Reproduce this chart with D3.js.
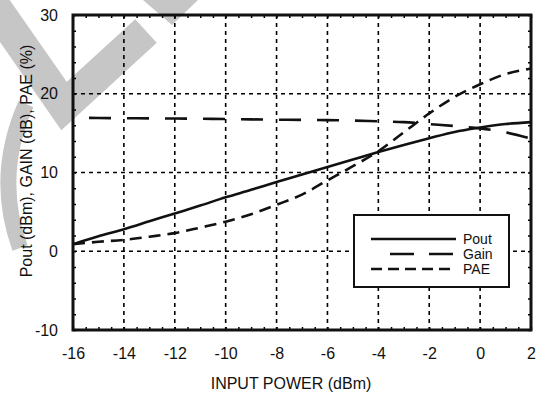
<!DOCTYPE html>
<html>
<head>
<meta charset="utf-8">
<script src="https://cdn.jsdelivr.net/npm/d3@7"></script>
<style>
  body { margin: 0; background: #fff; }
  svg { display: block; font-family: "Liberation Sans", Arial, sans-serif; }
</style>
</head>
<body>
<div id="chart"></div>
<script>
// data
const inputPower = [-16, -15, -14, -13, -12, -11, -10, -9, -8, -7, -6, -5, -4, -3, -2, -1, 0, 1, 2];
const pout = [0.9, 1.9, 2.8, 3.8, 4.8, 5.8, 6.85, 7.8, 8.8, 9.75, 10.7, 11.65, 12.6, 13.5, 14.35, 15.15, 15.7, 16.15, 16.4];
const gain = [16.95, 16.92, 16.9, 16.87, 16.85, 16.82, 16.8, 16.75, 16.7, 16.68, 16.65, 16.6, 16.5, 16.4, 16.15, 15.9, 15.6, 15.1, 14.3];
const pae = [0.9, 1.2, 1.45, 1.85, 2.3, 3.0, 3.75, 4.7, 5.9, 7.2, 9.0, 10.8, 12.7, 15.1, 17.5, 19.6, 21.2, 22.5, 23.2];
const xTicks = [-16, -14, -12, -10, -8, -6, -4, -2, 0, 2];
const yTicks = [-10, 0, 10, 20, 30];
const seriesNames = ['Pout', 'Gain', 'PAE'];

const width = 544;
const height = 396;
const plotLeft = 73, plotRight = 531, plotTop = 15, plotBottom = 330;
const fontSize = 16;

var svg = d3.select('#chart')
    .append('svg')
        .attr('width', width)
        .attr('height', height);

// grey watermark behind everything
var wm = svg.append('g').attr('fill', 'none').attr('stroke', '#c6c6c6');
wm.append('path')
    .attr('d', 'M-14,-6 L64,106 L146,31')
    .attr('stroke-width', 32)
    .attr('stroke-linejoin', 'miter');
svg.append('path')
    .attr('d', 'M143,0 L172,25 L198,0 Z')
    .attr('fill', '#c6c6c6');
wm.append('path')
    .attr('d', 'M26,104 Q-6,176 20,248')
    .attr('stroke-width', 16);

let x = d3.scaleLinear().domain([-16, 2]).range([plotLeft, plotRight]);
let y = d3.scaleLinear().domain([-10, 30]).range([plotBottom, plotTop]);

//grid
let grid = svg.append('g')
    .attr('stroke', '#000')
    .attr('stroke-width', 1.6)
    .attr('stroke-dasharray', '4,4');

grid.selectAll('.vgrid')
    .data(xTicks.slice(1, -1))
    .enter()
    .append('line')
        .attr('x1', d => x(d))
        .attr('x2', d => x(d))
        .attr('y1', plotTop)
        .attr('y2', plotBottom);

grid.selectAll('.hgrid')
    .data(yTicks.slice(1, -1))
    .enter()
    .append('line')
        .attr('x1', plotLeft)
        .attr('x2', plotRight)
        .attr('y1', d => y(d))
        .attr('y2', d => y(d));

//minor ticks pointing inward
let xMinor = d3.range(-16, 2.01, 0.5);
let yMinor = d3.range(-10, 30.01, 2);

svg.append('g')
    .attr('transform', `translate(0,${plotBottom})`)
    .call(d3.axisBottom(x).tickValues(xMinor).tickSize(-3).tickFormat(''))
    .call(g => g.select('.domain').remove());
svg.append('g')
    .attr('transform', `translate(0,${plotTop})`)
    .call(d3.axisTop(x).tickValues(xMinor).tickSize(-3).tickFormat(''))
    .call(g => g.select('.domain').remove());
svg.append('g')
    .attr('transform', `translate(${plotLeft},0)`)
    .call(d3.axisLeft(y).tickValues(yMinor).tickSize(-3).tickFormat(''))
    .call(g => g.select('.domain').remove());
svg.append('g')
    .attr('transform', `translate(${plotRight},0)`)
    .call(d3.axisRight(y).tickValues(yMinor).tickSize(-3).tickFormat(''))
    .call(g => g.select('.domain').remove());
svg.selectAll('.tick line').attr('stroke-width', 1.5);

//tick labels (plain hyphen for negatives, like the reference)
svg.append('g')
    .attr('transform', `translate(0,${plotBottom})`)
    .call(d3.axisBottom(x).tickValues(xTicks).tickSize(0).tickPadding(18).tickFormat(d => String(d)))
    .call(g => g.select('.domain').remove())
    .call(g => g.selectAll('text')
        .attr('font-size', fontSize)
        .attr('font-family', '"Liberation Sans", Arial, sans-serif')
        .attr('fill', '#111'));

svg.append('g')
    .attr('transform', `translate(${plotLeft},0)`)
    .call(d3.axisLeft(y).tickValues(yTicks).tickSize(0).tickPadding(15).tickFormat(d => String(d)))
    .call(g => g.select('.domain').remove())
    .call(g => g.selectAll('text')
        .attr('font-size', fontSize)
        .attr('font-family', '"Liberation Sans", Arial, sans-serif')
        .attr('fill', '#111'));

//axis titles
svg.append('text')
    .text('INPUT POWER (dBm)')
    .attr('x', 291)
    .attr('y', 389)
    .attr('text-anchor', 'middle')
    .attr('font-size', fontSize)
    .attr('fill', '#111');

svg.append('text')
    .text('Pout (dBm), GAIN (dB), PAE (%)')
    .attr('transform', `translate(32, 161) rotate(-90)`)
    .attr('text-anchor', 'middle')
    .attr('font-size', fontSize)
    .attr('fill', '#111');

//curves
let rows = inputPower.map((p, i) => ({p: p, pout: pout[i], gain: gain[i], pae: pae[i]}));

function lineFor(key) {
    return d3.line()
        .x(d => x(d.p))
        .y(d => y(d[key]))
        .curve(d3.curveMonotoneX)(rows);
}

svg.append('path')
    .attr('d', lineFor('pout'))
    .attr('fill', 'none')
    .attr('stroke', '#111')
    .attr('stroke-width', 2.6);

svg.append('path')
    .attr('d', lineFor('gain'))
    .attr('fill', 'none')
    .attr('stroke', '#111')
    .attr('stroke-width', 2.6)
    .attr('stroke-dasharray', '22,16')
    .attr('stroke-dashoffset', 22);

svg.append('path')
    .attr('d', lineFor('pae'))
    .attr('fill', 'none')
    .attr('stroke', '#111')
    .attr('stroke-width', 2.6)
    .attr('stroke-dasharray', '12,7');

//frame
svg.append('rect')
    .attr('x', plotLeft)
    .attr('y', plotTop)
    .attr('width', plotRight - plotLeft)
    .attr('height', plotBottom - plotTop)
    .attr('fill', 'none')
    .attr('stroke', '#111')
    .attr('stroke-width', 3);

//legend
let legend = svg.append('g').attr('transform', 'translate(354,215)');
legend.append('rect')
    .attr('width', 155)
    .attr('height', 72)
    .attr('fill', '#fff')
    .attr('stroke', '#111')
    .attr('stroke-width', 2);

let styles = [
    {x1: 17, dash: null},
    {x1: 36, dash: '24,15'},
    {x1: 17, dash: '11,6'}
];

seriesNames.forEach((name, i) => {
    let ly = 24 + i * 15;
    legend.append('line')
        .attr('x1', styles[i].x1)
        .attr('x2', 102)
        .attr('y1', ly)
        .attr('y2', ly)
        .attr('stroke', '#111')
        .attr('stroke-width', 2.6)
        .attr('stroke-dasharray', styles[i].dash);
    legend.append('text')
        .text(name)
        .attr('x', 109)
        .attr('y', ly + 4.5)
        .attr('font-size', 14)
        .attr('fill', '#111');
});
</script>
</body>
</html>
